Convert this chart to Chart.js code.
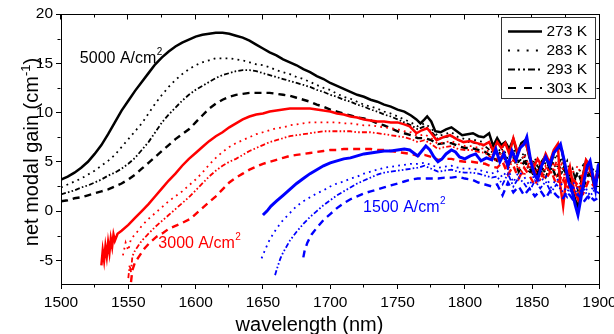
<!DOCTYPE html>
<html><head><meta charset="utf-8">
<script src="https://cdn.jsdelivr.net/npm/chart.js@4.4.1/dist/chart.umd.min.js"></script>
<style>html,body{margin:0;padding:0;background:#fff;overflow:hidden}#wrap{width:614px;height:334px}</style>
</head><body><div id="wrap"><canvas id="c" width="614" height="334"></canvas></div>
<script>
// ---------- DATA: [wavelength (nm), net modal gain (1/cm)] ----------
const xTicks = [1500, 1550, 1600, 1650, 1700, 1750, 1800, 1850, 1900];
const yTicks = [-5, 0, 5, 10, 15, 20];
const temperatures = ['273 K', '283 K', '293 K', '303 K'];
const currentLabels = ['5000 A/cm', '3000 A/cm', '1500 A/cm'];

const j5000_273 = [[1500,3.2],[1505,3.5],[1510,3.9],[1515,4.4],[1520,5.0],[1525,5.8],[1530,6.7],[1535,7.8],[1540,9.0],[1545,10.2],
[1550,11.2],[1555,12.2],[1560,13.1],[1565,14.0],[1570,14.9],[1575,15.6],[1580,16.2],[1585,16.7],[1590,17.1],[1595,17.4],
[1600,17.7],[1605,17.9],[1610,18.0],[1615,18.1],[1620,18.1],[1625,18.0],[1630,17.8],[1635,17.6],[1640,17.3],[1645,16.9],
[1650,16.5],[1655,16.1],[1660,15.8],[1665,15.4],[1670,15.1],[1675,14.8],[1680,14.4],[1685,14.1],[1690,13.7],[1695,13.4],
[1700,13.0],[1705,12.7],[1710,12.4],[1715,12.1],[1720,11.8],[1725,11.6],[1730,11.3],[1735,11.1],[1740,10.8],[1745,10.6],
[1750,10.3],[1755,10.1],[1760,9.7],[1764,9.3],[1767,8.9],[1770,9.3],[1772,9.6],[1775,9.1],[1778,8.1],[1782,8.0],
[1786,8.3],[1790,8.5],[1794,8.1],[1798,7.7],[1802,7.8],[1806,7.9],[1810,7.6],[1814,7.5],[1818,7.9],[1821,6.6],
[1824,7.4],[1827,6.7],[1830,7.0],[1833,6.3],[1836,7.3],[1839,5.8],[1842,6.9],[1845,7.2],[1848,5.4],[1851,4.6],
[1854,3.8],[1857,5.0],[1860,5.6],[1863,4.3],[1866,5.9],[1869,6.6],[1872,6.2],[1875,4.0],[1878,2.8],[1881,1.6],
[1884,0.3],[1887,3.2],[1890,5.1],[1893,4.3],[1896,2.6],[1899,3.8]];

const j5000_283 = [[1500,2.4],[1505,2.7],[1510,3.0],[1515,3.3],[1520,3.7],[1525,4.1],[1530,4.6],[1535,5.1],[1540,5.7],[1545,6.5],
[1550,7.3],[1555,8.1],[1560,8.9],[1565,9.9],[1570,10.9],[1575,11.8],[1580,12.6],[1585,13.3],[1590,13.9],[1595,14.4],
[1600,14.8],[1605,15.1],[1610,15.3],[1615,15.5],[1620,15.5],[1625,15.5],[1630,15.4],[1635,15.3],[1640,15.1],[1645,14.9],
[1650,14.8],[1655,14.6],[1660,14.3],[1665,14.1],[1670,13.9],[1675,13.6],[1680,13.4],[1685,13.1],[1690,12.8],[1695,12.5],
[1700,12.3],[1705,11.9],[1710,11.6],[1715,11.4],[1720,11.1],[1725,10.8],[1730,10.6],[1735,10.4],[1740,10.1],[1745,9.9],
[1750,9.6],[1755,9.3],[1760,9.0],[1765,8.6],[1770,8.9],[1775,8.4],[1780,7.6],[1785,7.8],[1790,8.0],[1795,7.5],
[1800,7.3],[1805,7.3],[1810,7.1],[1815,7.0],[1820,6.4],[1824,5.9],[1828,6.6],[1832,5.2],[1836,6.4],[1840,4.8],
[1844,6.0],[1848,4.2],[1852,5.4],[1856,3.6],[1860,5.0],[1864,4.2],[1868,5.8],[1872,3.9],[1876,5.1],[1880,2.6],
[1884,3.8],[1888,4.7],[1892,3.4],[1896,4.4],[1900,3.5]];

const j5000_293 = [[1500,1.7],[1505,1.9],[1510,2.1],[1515,2.4],[1520,2.6],[1525,2.9],[1530,3.2],[1535,3.6],[1540,3.9],[1545,4.3],
[1550,4.8],[1555,5.4],[1560,6.2],[1565,7.0],[1570,8.0],[1575,9.0],[1580,9.8],[1585,10.5],[1590,11.2],[1595,11.8],
[1600,12.3],[1605,12.7],[1610,13.1],[1615,13.5],[1620,13.8],[1625,14.0],[1630,14.2],[1635,14.3],[1640,14.3],[1645,14.2],
[1650,14.0],[1655,13.8],[1660,13.6],[1665,13.4],[1670,13.2],[1675,13.0],[1680,12.8],[1685,12.6],[1690,12.3],[1695,12.1],
[1700,11.8],[1705,11.6],[1710,11.3],[1715,11.1],[1720,10.8],[1725,10.6],[1730,10.3],[1735,10.1],[1740,9.8],[1745,9.6],
[1750,9.3],[1755,9.0],[1760,8.7],[1765,8.3],[1770,8.6],[1775,8.1],[1780,7.3],[1785,7.5],[1790,7.6],[1795,7.2],
[1800,7.0],[1805,7.0],[1810,6.8],[1815,6.6],[1820,6.0],[1824,5.6],[1828,6.3],[1832,4.9],[1836,6.0],[1840,5.0],
[1844,5.6],[1848,3.8],[1852,4.9],[1856,4.2],[1860,3.4],[1864,5.0],[1868,4.4],[1872,5.4],[1876,3.2],[1880,4.3],
[1884,2.1],[1888,3.6],[1892,4.5],[1896,2.9],[1900,3.9]];

const j5000_303 = [[1500,1.0],[1505,1.1],[1510,1.3],[1515,1.4],[1520,1.6],[1525,1.8],[1530,2.0],[1535,2.2],[1540,2.5],[1545,2.8],
[1550,3.2],[1555,3.7],[1560,4.3],[1565,4.9],[1570,5.5],[1575,6.1],[1580,6.7],[1585,7.3],[1590,7.8],[1595,8.3],
[1600,9.0],[1605,9.7],[1610,10.4],[1615,10.9],[1620,11.3],[1625,11.6],[1630,11.8],[1635,11.9],[1640,12.0],[1645,12.0],
[1650,12.0],[1655,12.0],[1660,11.9],[1665,11.8],[1670,11.7],[1675,11.5],[1680,11.3],[1685,11.1],[1690,10.8],[1695,10.6],
[1700,10.3],[1705,10.1],[1710,9.9],[1715,9.7],[1720,9.5],[1725,9.4],[1730,9.2],[1735,8.9],[1740,8.7],[1745,8.4],
[1750,8.1],[1755,7.9],[1760,7.7],[1765,7.4],[1770,7.4],[1775,7.2],[1780,6.8],[1785,6.9],[1790,6.9],[1795,6.6],
[1800,6.4],[1805,6.4],[1810,6.2],[1815,6.0],[1820,5.5],[1824,5.1],[1828,5.8],[1832,4.6],[1836,5.5],[1840,4.0],
[1844,5.0],[1848,4.4],[1852,3.4],[1856,4.6],[1860,3.9],[1864,4.8],[1868,3.3],[1872,4.5],[1876,3.7],[1880,2.8],
[1884,4.0],[1888,2.4],[1892,3.8],[1896,3.1],[1900,3.6]];

const j3000_273 = [[1530,-5.5],[1531,-4.0],[1532,-5.0],[1533,-3.6],[1534,-4.6],[1535,-3.2],[1536,-4.2],[1537,-2.8],[1538,-3.6],[1539,-2.4],
[1540,-3.0],[1542,-2.3],[1545,-2.0],[1550,-1.4],[1555,-0.7],[1560,0.0],[1565,0.7],[1570,1.5],[1575,2.3],[1580,3.1],
[1585,3.8],[1590,4.6],[1595,5.3],[1600,5.9],[1605,6.5],[1610,7.1],[1615,7.6],[1620,8.0],[1625,8.5],[1630,8.9],
[1635,9.3],[1640,9.6],[1645,9.8],[1650,9.9],[1655,10.1],[1660,10.2],[1665,10.3],[1670,10.4],[1675,10.4],[1680,10.4],
[1685,10.4],[1690,10.3],[1695,10.2],[1700,10.1],[1705,9.9],[1710,9.8],[1715,9.6],[1720,9.5],[1725,9.3],[1730,9.2],
[1735,9.1],[1740,9.1],[1745,9.0],[1750,9.0],[1755,8.8],[1759,8.6],[1764,7.9],[1768,8.2],[1772,8.4],[1775,7.9],
[1779,7.2],[1784,7.5],[1789,7.7],[1794,7.3],[1799,7.0],[1804,7.1],[1809,6.9],[1814,6.7],[1818,7.0],[1821,6.1],
[1824,7.0],[1827,6.4],[1830,6.9],[1833,5.8],[1836,7.4],[1839,6.0],[1842,6.6],[1845,7.0],[1848,5.6],[1851,4.4],
[1854,5.3],[1857,4.6],[1860,5.8],[1863,4.9],[1866,6.2],[1869,6.8],[1871,2.5],[1873,0.5],[1875,3.0],[1878,4.5],
[1881,2.2],[1884,1.2],[1887,3.0],[1890,5.2],[1893,4.6],[1896,3.0],[1899,4.2]];

const j3000_283 = [[1546,-4.5],[1548,-3.2],[1550,-4.0],[1552,-2.8],[1555,-2.4],[1560,-1.5],[1565,-0.8],[1570,-0.2],[1575,0.4],[1580,1.0],
[1585,1.5],[1590,2.0],[1595,2.6],[1600,3.2],[1605,3.9],[1610,4.7],[1615,5.4],[1620,6.0],[1625,6.5],[1630,6.9],
[1635,7.2],[1640,7.5],[1645,7.8],[1650,8.0],[1655,8.2],[1660,8.4],[1665,8.5],[1670,8.7],[1675,8.8],[1680,8.9],
[1685,9.0],[1690,9.0],[1695,9.0],[1700,9.0],[1705,9.0],[1710,8.9],[1715,8.9],[1720,8.8],[1725,8.7],[1730,8.7],
[1735,8.6],[1740,8.5],[1745,8.4],[1750,8.3],[1755,8.1],[1760,8.0],[1765,7.6],[1770,7.8],[1775,7.4],[1780,6.8],
[1785,7.0],[1790,7.1],[1795,6.8],[1800,6.6],[1805,6.6],[1810,6.4],[1815,6.3],[1820,5.8],[1824,5.3],[1828,6.2],
[1832,4.4],[1836,5.6],[1840,4.1],[1844,5.8],[1848,4.5],[1852,3.5],[1856,5.0],[1860,4.3],[1864,5.4],[1868,3.6],
[1872,4.8],[1876,2.4],[1880,3.9],[1884,4.6],[1888,2.9],[1892,4.1],[1896,3.3],[1900,4.0]];

const j3000_293 = [[1550,-6.8],[1551,-5.5],[1552,-6.2],[1553,-4.6],[1555,-4.0],[1560,-3.0],[1565,-2.3],[1570,-1.6],[1575,-1.0],[1580,-0.4],
[1585,0.2],[1590,0.8],[1595,1.4],[1600,2.1],[1605,2.8],[1610,3.5],[1615,4.1],[1620,4.6],[1625,5.0],[1630,5.3],
[1635,5.7],[1640,6.1],[1645,6.4],[1650,6.7],[1655,7.0],[1660,7.2],[1665,7.4],[1670,7.6],[1675,7.7],[1680,7.8],
[1685,7.9],[1690,8.0],[1695,8.1],[1700,8.1],[1705,8.1],[1710,8.1],[1715,8.1],[1720,8.0],[1725,8.0],[1730,8.0],
[1735,7.9],[1740,7.8],[1745,7.7],[1750,7.6],[1755,7.5],[1760,7.3],[1765,7.0],[1770,7.2],[1775,6.8],[1780,6.3],
[1785,6.5],[1790,6.6],[1795,6.3],[1800,6.2],[1805,6.2],[1810,6.0],[1815,5.9],[1820,5.4],[1824,5.0],[1828,5.7],
[1832,4.2],[1836,5.2],[1840,4.5],[1844,3.6],[1848,5.0],[1852,4.1],[1856,3.2],[1860,4.6],[1864,3.8],[1868,5.0],
[1872,2.8],[1876,4.2],[1880,3.4],[1884,2.2],[1888,3.8],[1892,4.4],[1896,2.7],[1900,3.6]];

const j3000_303 = [[1552,-7.2],[1553,-6.0],[1555,-5.2],[1558,-4.6],[1562,-3.8],[1566,-3.2],[1571,-2.6],[1576,-2.2],[1580,-1.8],[1585,-1.5],
[1590,-1.2],[1596,-0.8],[1600,-0.3],[1605,0.3],[1610,0.9],[1615,1.5],[1620,2.2],[1625,2.9],[1630,3.4],[1635,3.8],
[1640,4.2],[1645,4.5],[1650,4.8],[1655,5.0],[1660,5.2],[1665,5.4],[1670,5.6],[1675,5.7],[1680,5.8],[1685,5.9],
[1690,6.0],[1695,6.1],[1700,6.2],[1705,6.2],[1710,6.3],[1715,6.3],[1720,6.3],[1725,6.3],[1730,6.3],[1735,6.2],
[1740,6.2],[1745,6.1],[1750,6.0],[1755,5.9],[1760,5.8],[1765,5.6],[1770,5.7],[1775,5.5],[1780,5.2],[1785,5.3],
[1790,5.3],[1795,5.1],[1800,5.0],[1805,5.0],[1810,4.9],[1815,4.8],[1820,4.5],[1824,4.4],[1828,5.0],[1832,3.7],
[1836,4.6],[1840,3.3],[1844,4.4],[1848,3.6],[1852,2.6],[1856,3.9],[1860,3.2],[1864,4.1],[1868,2.7],[1872,3.6],
[1876,2.2],[1880,3.3],[1884,2.6],[1888,1.8],[1892,3.1],[1896,2.5],[1900,2.9]];

const j1500_273 = [[1650,-0.4],[1653,0.0],[1656,0.5],[1660,1.0],[1665,1.6],[1670,2.2],[1675,2.8],[1680,3.3],[1685,3.8],[1690,4.2],
[1695,4.6],[1700,4.9],[1705,5.1],[1710,5.3],[1715,5.4],[1720,5.6],[1725,5.8],[1730,5.9],[1735,6.0],[1740,6.1],
[1745,6.1],[1750,6.2],[1755,6.3],[1759,6.2],[1762,5.9],[1765,5.6],[1768,6.1],[1771,6.6],[1774,6.2],[1777,5.5],
[1780,5.0],[1783,5.3],[1786,5.8],[1790,6.2],[1793,6.0],[1796,5.5],[1800,5.3],[1804,5.6],[1808,5.8],[1812,5.1],
[1816,5.4],[1820,5.2],[1823,6.3],[1826,5.0],[1829,5.8],[1832,4.6],[1835,6.1],[1838,5.2],[1841,6.4],[1844,6.8],
[1846,7.5],[1849,5.0],[1852,3.6],[1854,3.2],[1857,4.6],[1860,5.5],[1863,4.6],[1866,5.9],[1869,6.4],[1871,6.8],
[1874,5.0],[1877,3.0],[1880,1.8],[1882,0.6],[1884,-0.4],[1887,1.9],[1889,3.4],[1891,4.6],[1893,5.1],[1895,3.6],
[1897,2.2],[1899,4.6],[1900,4.9]];

const j1500_283 = [[1649,-4.8],[1652,-3.8],[1655,-2.9],[1660,-1.8],[1665,-0.9],[1670,-0.2],[1675,0.5],[1680,1.0],[1685,1.4],[1690,1.8],
[1695,2.1],[1700,2.5],[1705,2.8],[1710,3.0],[1715,3.3],[1720,3.5],[1725,3.8],[1730,4.0],[1735,4.2],[1740,4.4],
[1745,4.5],[1750,4.6],[1755,4.7],[1760,4.8],[1765,4.8],[1770,4.9],[1775,4.7],[1780,4.4],[1785,4.5],[1790,4.6],
[1795,4.4],[1800,4.3],[1805,4.3],[1810,4.2],[1815,4.0],[1820,3.8],[1824,4.1],[1828,3.4],[1832,4.3],[1836,2.9],
[1840,4.0],[1844,3.5],[1848,2.6],[1852,3.8],[1856,2.9],[1860,3.6],[1864,2.4],[1868,3.3],[1872,2.7],[1876,1.9],
[1880,3.0],[1884,2.2],[1888,2.9],[1892,1.7],[1896,2.6],[1900,2.2]];

const j1500_293 = [[1659,-6.5],[1661,-5.6],[1663,-4.8],[1665,-4.2],[1670,-3.0],[1675,-2.1],[1680,-1.3],[1685,-0.6],[1690,0.0],[1695,0.6],
[1700,1.1],[1705,1.6],[1710,2.0],[1715,2.4],[1720,2.8],[1725,3.1],[1730,3.4],[1735,3.7],[1740,3.9],[1745,4.0],
[1750,4.1],[1755,4.2],[1760,4.3],[1765,4.4],[1770,4.6],[1775,4.3],[1780,4.0],[1785,4.1],[1790,4.2],[1795,4.0],
[1800,3.9],[1805,3.9],[1810,3.8],[1815,3.6],[1820,3.4],[1824,3.5],[1828,2.7],[1832,3.8],[1836,2.5],[1840,3.4],
[1844,2.8],[1848,2.0],[1852,3.1],[1856,2.3],[1860,3.0],[1864,1.9],[1868,2.7],[1872,2.1],[1876,1.4],[1880,2.5],
[1884,1.7],[1888,2.4],[1892,1.3],[1896,2.1],[1900,1.8]];

const j1500_303 = [[1680,-4.7],[1681,-4.0],[1683,-3.2],[1686,-2.4],[1690,-1.7],[1695,-0.9],[1700,-0.3],[1705,0.3],[1710,0.8],[1715,1.2],
[1720,1.5],[1725,1.8],[1730,2.0],[1735,2.2],[1740,2.4],[1745,2.6],[1750,2.8],[1755,3.0],[1760,3.2],[1765,3.3],
[1770,3.3],[1775,3.3],[1780,3.3],[1785,3.4],[1790,3.4],[1795,3.5],[1800,3.3],[1805,3.2],[1810,2.9],[1815,2.7],
[1820,2.5],[1824,2.7],[1828,1.6],[1832,2.9],[1836,1.9],[1840,2.5],[1844,1.6],[1848,2.3],[1852,1.5],[1856,2.1],
[1860,1.3],[1864,2.2],[1868,1.6],[1872,1.1],[1876,2.0],[1880,1.2],[1884,1.7],[1888,0.9],[1892,1.6],[1896,1.1],
[1900,1.4]];

// ---------- STYLES ----------
const FONT = '"Liberation Sans", Arial, sans-serif';
const colors = { c5000: '#000000', c3000: '#ff0000', c1500: '#0000ff' };
const lineStyles = [
  { dash: [], width: 2.5 },
  { dash: [1.8, 4.2], width: 1.8 },
  { dash: [5, 2.2, 1.6, 2.2, 1.6, 2.2], width: 1.8 },
  { dash: [7, 5], width: 2.4 }
];
const legendDash = [[], [2, 7.3], [7, 3, 2, 3, 2, 3], [8, 8]];

function ds(arr, color, styleIdx) {
  const st = lineStyles[styleIdx];
  return {
    data: arr.map(p => ({ x: p[0], y: p[1] })),
    borderColor: color, backgroundColor: color,
    borderWidth: st.width, borderDash: st.dash,
    pointRadius: 0, fill: false, tension: 0
  };
}

const groups = [
  { color: colors.c1500, series: [j1500_273, j1500_283, j1500_293, j1500_303], boost: 0.5 },
  { color: colors.c3000, series: [j3000_273, j3000_283, j3000_293, j3000_303], boost: 0 },
  { color: colors.c5000, series: [j5000_273, j5000_283, j5000_293, j5000_303], boost: 0 }
];
const datasets = [];
groups.forEach(g => {
  g.series.forEach((s, i) => {
    const d = ds(s, g.color, i);
    if (i === 0) d.borderWidth += g.boost;
    datasets.push(d);
  });
});

// ---------- DECORATION PLUGIN ----------
const frame = {
  id: 'frame',
  afterDraw(chart) {
    const { ctx, chartArea: a, scales: { x, y } } = chart;
    ctx.save();
    ctx.strokeStyle = '#000';
    ctx.lineWidth = 1;
    const L = Math.round(a.left) - 0.5, R = Math.round(a.right) - 0.5;
    const T = Math.round(a.top) + 0.5, B = Math.round(a.bottom) + 0.5;
    ctx.beginPath();
    ctx.moveTo(L, T); ctx.lineTo(R + 0.5, T);
    ctx.moveTo(R, T); ctx.lineTo(R, B);
    for (let v = 1500; v <= 1900; v += 25) {
      const px = Math.round(x.getPixelForValue(v)) - 0.5;
      const major = v % 50 === 0;
      if (!major) { ctx.moveTo(px, B); ctx.lineTo(px, B + 3); }
      ctx.moveTo(px, T); ctx.lineTo(px, T + (major ? 5 : 3));
    }
    for (let v = -5; v <= 20; v += 2.5) {
      const py = Math.round(y.getPixelForValue(v)) + 0.5;
      const major = Math.abs(v % 5) < 1e-9;
      if (!major) { ctx.moveTo(L, py); ctx.lineTo(L - 3, py); }
      ctx.moveTo(R, py); ctx.lineTo(R - (major ? 5 : 3), py);
    }
    ctx.stroke();

    // legend
    ctx.fillStyle = '#fff';
    ctx.strokeStyle = '#333';
    ctx.fillRect(501, 17, 94, 81);
    ctx.strokeRect(501.5, 17.5, 94, 81);
    const rows = [31.5, 50.5, 69.5, 88];
    ctx.font = '15.5px ' + FONT;
    ctx.textBaseline = 'middle';
    ctx.textAlign = 'left';
    temperatures.forEach((t, i) => {
      ctx.strokeStyle = '#000';
      ctx.lineWidth = i === 0 ? 2.5 : 2;
      ctx.setLineDash(legendDash[i]);
      ctx.beginPath();
      ctx.moveTo(508, rows[i]); ctx.lineTo(542, rows[i]);
      ctx.stroke();
      ctx.setLineDash([]);
      ctx.fillStyle = '#000';
      ctx.fillText(t, 546.5, rows[i] + 0.5);
    });

    // current density annotations (anchored in data coordinates)
    const notes = [
      { text: currentLabels[0], wl: 1514, g: 15.0, color: colors.c5000 },
      { text: currentLabels[1], wl: 1572.3, g: -3.76, color: colors.c3000 },
      { text: currentLabels[2], wl: 1724.4, g: -0.05, color: colors.c1500 }
    ];
    ctx.textBaseline = 'alphabetic';
    notes.forEach(n => {
      const px = x.getPixelForValue(n.wl), py = y.getPixelForValue(n.g);
      ctx.fillStyle = n.color;
      ctx.font = '16px ' + FONT;
      ctx.fillText(n.text, px, py);
      const w = ctx.measureText(n.text).width;
      ctx.font = '10px ' + FONT;
      ctx.fillText('2', px + w + 0.5, py - 8);
    });

    // axis titles
    ctx.fillStyle = '#000';
    ctx.font = '20px ' + FONT;
    ctx.textAlign = 'center';
    ctx.fillText('wavelength (nm)', 309.5, 331);

    ctx.save();
    ctx.translate(37.5, 152);
    ctx.rotate(-Math.PI / 2);
    ctx.textAlign = 'left';
    const main = 'net modal gain (cm', sup = '-1', close = ')';
    ctx.font = '20px ' + FONT;
    const w1 = ctx.measureText(main).width, w3 = ctx.measureText(close).width;
    ctx.font = '13px ' + FONT;
    const w2 = ctx.measureText(sup).width;
    const sx = -(w1 + w2 + w3) / 2;
    ctx.font = '20px ' + FONT;
    ctx.fillText(main, sx, 0);
    ctx.font = '13px ' + FONT;
    ctx.fillText(sup, sx + w1, -8);
    ctx.font = '20px ' + FONT;
    ctx.fillText(close, sx + w1 + w2, 0);
    ctx.restore();

    ctx.restore();
  }
};

const tickFont = { family: FONT, size: 15.5 };
new Chart(document.getElementById('c').getContext('2d'), {
  type: 'line',
  data: { datasets },
  options: {
    responsive: false, animation: false, devicePixelRatio: 1,
    layout: { padding: { top: 14, right: 14.5, left: 0, bottom: 0 }, autoPadding: false },
    plugins: { legend: { display: false }, tooltip: { enabled: false } },
    scales: {
      x: {
        type: 'linear', min: xTicks[0], max: xTicks[xTicks.length - 1],
        afterFit(s) { s.height = 50; s.paddingLeft = 0; s.paddingRight = 0; },
        afterBuildTicks(s) { s.ticks = xTicks.map(v => ({ value: v })); },
        ticks: { font: tickFont, color: '#000', padding: 4, maxRotation: 0, autoSkip: false, callback: v => String(v) },
        grid: { drawOnChartArea: false, tickLength: 5, tickColor: '#000', tickWidth: 1 },
        border: { color: '#000', width: 1 }
      },
      y: {
        type: 'linear', min: -7.4, max: 20,
        afterFit(s) { s.width = 61; s.paddingTop = 0; s.paddingBottom = 0; },
        afterBuildTicks(s) { s.ticks = yTicks.map(v => ({ value: v })); },
        ticks: { font: tickFont, color: '#000', padding: 3, callback: v => String(v) },
        grid: { drawOnChartArea: false, tickLength: 5, tickColor: '#000', tickWidth: 1 },
        border: { color: '#000', width: 1 }
      }
    }
  },
  plugins: [frame]
});
</script></body></html>
